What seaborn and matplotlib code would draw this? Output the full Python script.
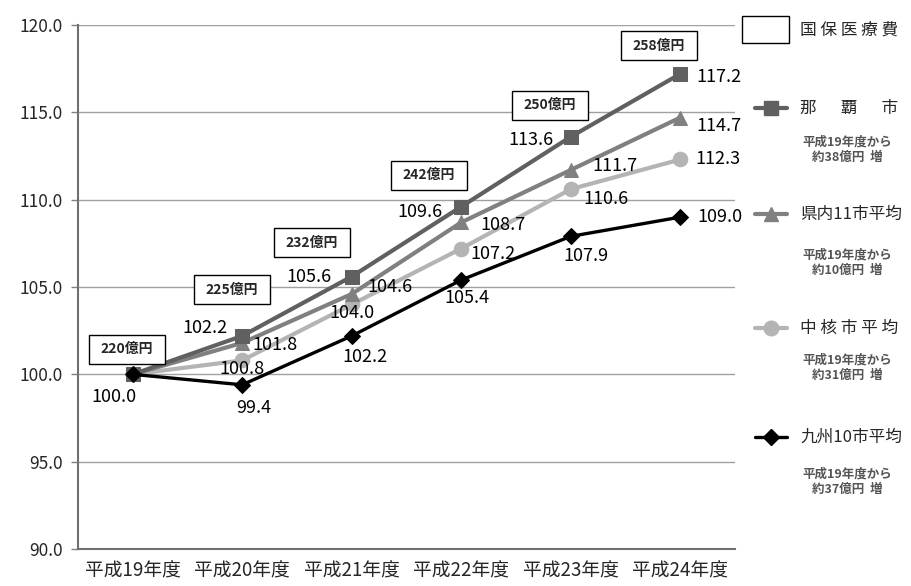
import matplotlib
matplotlib.use("Agg")
import matplotlib.pyplot as plt
import seaborn as sns
import pandas as pd
from matplotlib.lines import Line2D
from matplotlib.patches import Rectangle

years = ["平成19年度", "平成20年度", "平成21年度", "平成22年度", "平成23年度", "平成24年度"]
naha = [100.0, 102.2, 105.6, 109.6, 113.6, 117.2]
kennai = [100.0, 101.8, 104.6, 108.7, 111.7, 114.7]
chukaku = [100.0, 100.8, 104.0, 107.2, 110.6, 112.3]
kyushu = [100.0, 99.4, 102.2, 105.4, 107.9, 109.0]
amounts = ["220億円", "225億円", "232億円", "242億円", "250億円", "258億円"]
series_names = ["那 　 覇 　 市", "県内11市平均", "中 核 市 平 均", "九州10市平均"]
notes = ["平成19年度から\n約38億円  増", "平成19年度から\n約10億円  増",
         "平成19年度から\n約31億円  増", "平成19年度から\n約37億円  増"]

sns.set_theme(style="white")
plt.rcParams['font.family'] = ['Noto Sans CJK JP', 'DejaVu Sans']

fig = plt.figure(figsize=(9.11, 5.86), dpi=100)
ax = fig.add_axes([78/911, 1-549/586, (735-78)/911, (549-25)/586])

colors = ["#606060", "#808080", "#b4b4b4", "#000000"]
markers = ["s", "^", "o", "D"]
msizes = [10.5, 10.5, 10.5, 8.5]
lws = [3.0, 3.0, 3.0, 2.4]
data = [naha, kennai, chukaku, kyushu]
xs = list(range(len(years)))

for vals, c, m, ms, lw, z in zip(data, colors, markers, msizes, lws, [4, 3, 2, 5]):
    df = pd.DataFrame({"x": xs, "y": vals})
    sns.lineplot(data=df, x="x", y="y", ax=ax, color=c, marker=m, markersize=ms,
                 markeredgecolor=c, linewidth=lw, zorder=z)

ax.set_xlim(-0.5, 5.5)
ax.set_ylim(90, 120)
yt = [90, 95, 100, 105, 110, 115, 120]
ax.set_yticks(yt)
ax.set_yticklabels([f"{v:.1f}" for v in yt], fontsize=12.5)
ax.set_xticks(xs)
ax.set_xticklabels(years, fontsize=13.5)
ax.set_xticks([i + 0.5 for i in range(-1, 6)], minor=True)
ax.tick_params(axis="x", which="major", length=0, pad=8)
ax.tick_params(axis="x", which="minor", length=5, color="#808080", width=1, direction="out")
ax.tick_params(axis="y", length=5, color="#808080", width=1, direction="out", left=True, pad=6)
ax.set_xlabel("")
ax.set_ylabel("")
for s in ["top", "right"]:
    ax.spines[s].set_visible(False)
for s in ["left", "bottom"]:
    ax.spines[s].set_color("#707070")
    ax.spines[s].set_linewidth(1.5)
ax.yaxis.grid(True, color="#a0a0a0", linewidth=1)
ax.set_axisbelow(True)

fs = 13
px = 0.72  # pixel -> point
lab_off = {
    0: [None, (-37, 8), (-43, 0), (-41, -5), (-40, -3), (39, -3)],
    1: [None, (33, -2), (38, 7), (42, -3), (44, 4), (39, -8)],
    2: [None, (0, -9), (0, -9), (32, -5), (35, -10), (38, 0)],
    3: [(-19, -23), (12, -23), (13, -21), (6, -18), (15, -20), (40, 0)],
}
for si, vals in enumerate(data):
    for i, v in enumerate(vals):
        off = lab_off[si][i]
        if off is None:
            continue
        ax.annotate(f"{v:.1f}", (i, v), xytext=(off[0] * px, off[1] * px),
                    textcoords="offset points", ha="center", va="center",
                    fontsize=fs, color="black", zorder=10)

# amount boxes (centres in data coordinates)
box_x = [-0.053, 0.906, 1.636, 2.705, 3.811, 4.806]
box_y = [101.45, 104.83, 107.52, 111.41, 115.41, 118.82]
bw, bh = 76 / 109.5, 29 / 17.47
for bx, by, t in zip(box_x, box_y, amounts):
    ax.add_patch(Rectangle((bx - bw / 2, by - bh / 2), bw, bh, fc="white", ec="black",
                           lw=1.0, zorder=11))
    ax.text(bx, by, t, ha="center", va="center", fontsize=10, fontweight="bold", zorder=12)

# legend area
lax = fig.add_axes([0, 0, 1, 1], facecolor="none")
lax.set_xlim(0, 911)
lax.set_ylim(586, 0)
lax.axis("off")
lax.add_patch(Rectangle((742, 16), 47, 27, fc="white", ec="black", lw=1.0))
lax.text(800, 30, "国 保 医 療 費", fontsize=12, va="center", ha="left")

leg_y = [108, 214, 328, 437]
note_y = [150, 263, 368, 482]
for c, m, ms, lw, y, ny, name, note in zip(colors, markers, msizes, lws, leg_y, note_y,
                                            series_names, notes):
    lax.add_line(Line2D([755, 787], [y, y], color=c, lw=lw))
    lax.add_line(Line2D([771], [y], color=c, marker=m, markersize=ms, markeredgecolor=c))
    lax.text(800, y, name, fontsize=12, va="center", ha="left")
    lax.text(847, ny, note, fontsize=9, fontweight="bold", color="#555555",
             va="center", ha="center", linespacing=1.25)

fig.savefig("out.png", dpi=100)
